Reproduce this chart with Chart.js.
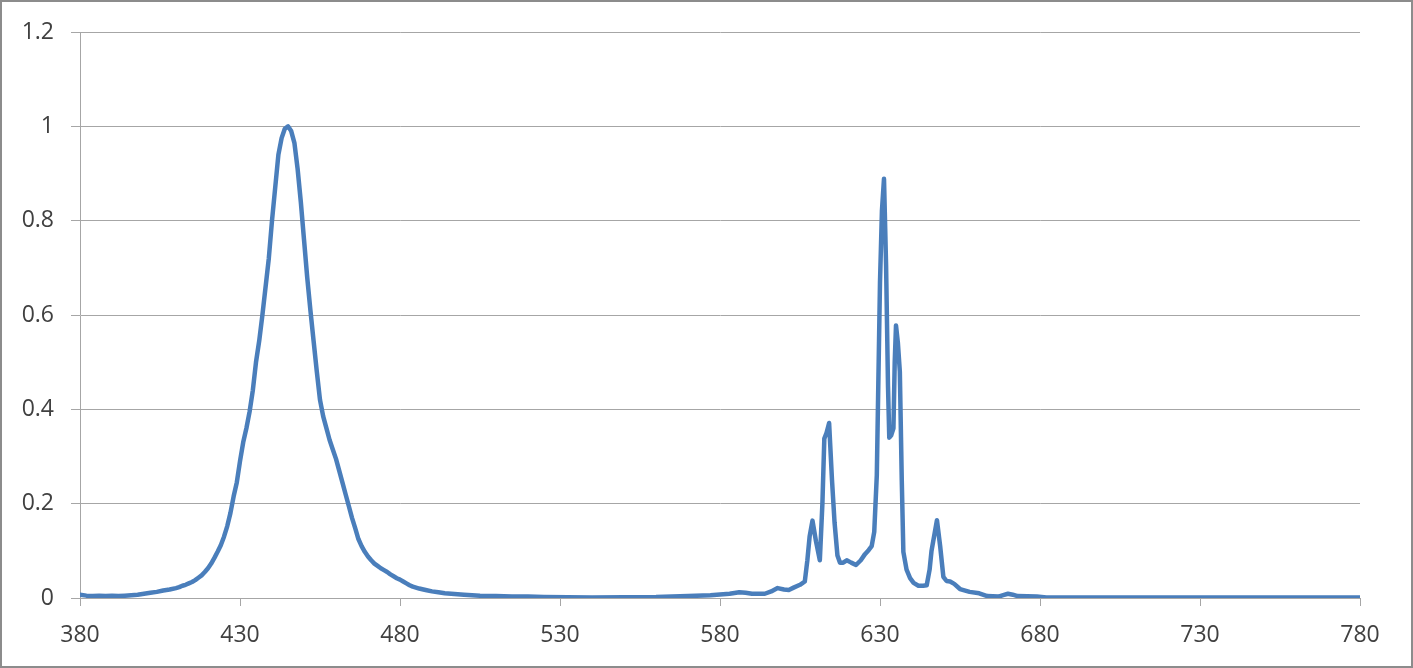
<!DOCTYPE html>
<html>
<head>
<meta charset="utf-8">
<script src="https://cdn.jsdelivr.net/npm/chart.js@4.4.1/dist/chart.umd.min.js"></script>
<style>
  html, body { margin: 0; padding: 0; background: #ffffff; }
</style>
</head>
<body>
<canvas id="espectro" width="1413" height="668"></canvas>
<script>
// longitudes de onda (nm)
const longitudes = [
    380, 382, 384, 386, 388, 390, 392, 394, 396, 398,
    400, 402, 404, 406, 408, 410, 411, 412, 413, 414,
    415, 416, 417, 418, 419, 420, 421, 422, 423, 424,
    425, 426, 427, 428, 429, 430, 431, 432, 433, 434,
    435, 436, 437, 438, 439, 440, 441, 442, 443, 444,
    445, 446, 447, 448, 449, 450, 451, 452, 453, 454,
    455, 456, 457, 458, 459, 460, 461, 462, 463, 464,
    465, 466, 467, 468, 469, 470, 471, 472, 473, 474,
    475, 476, 477, 478, 479, 480, 481, 482, 483, 484,
    486, 488, 490, 492, 494, 496, 498, 500, 505, 510,
    515, 520, 525, 540, 560, 570, 577, 583, 586, 588,
    590, 594, 596, 598, 600, 601.5, 603, 605, 606.5, 607.3,
    608, 608.9, 610, 611.2, 612, 612.6, 613.3, 614.1, 615, 615.8,
    616.7, 617.5, 618.5, 619.6, 621, 622.5, 624, 625.3, 626.5, 627.4,
    628.2, 629, 630, 630.6, 631.25, 631.9, 632.5, 632.9, 633.5, 634.2,
    634.6, 635, 635.6, 636.2, 636.8, 637.3, 638.3, 639.4, 640.5, 642,
    643.5, 644.6, 645.5, 646.1, 647.8, 648.8, 649.8, 650.8, 651.9, 653.2,
    655, 658, 661, 663.5, 667, 668.5, 670, 671.5, 673, 679,
    682, 700, 780
];

// intensidad relativa
const intensidad = [
    0.007, 0.005, 0.004, 0.005, 0.004, 0.005, 0.004, 0.005, 0.006, 0.007,
    0.009, 0.011, 0.013, 0.016, 0.018, 0.021, 0.023, 0.026, 0.028, 0.031,
    0.034, 0.038, 0.043, 0.048, 0.055, 0.063, 0.073, 0.085, 0.098, 0.112,
    0.130, 0.152, 0.180, 0.215, 0.245, 0.290, 0.330, 0.360, 0.395, 0.440,
    0.500, 0.545, 0.600, 0.660, 0.720, 0.800, 0.870, 0.940, 0.975, 0.995,
    1.000, 0.990, 0.965, 0.910, 0.840, 0.760, 0.680, 0.610, 0.545, 0.480,
    0.420, 0.385, 0.360, 0.335, 0.315, 0.295, 0.270, 0.245, 0.220, 0.195,
    0.170, 0.148, 0.125, 0.110, 0.098, 0.088, 0.080, 0.073, 0.068, 0.063,
    0.059, 0.055, 0.050, 0.046, 0.042, 0.039, 0.035, 0.031, 0.027, 0.024,
    0.020, 0.017, 0.014, 0.012, 0.010, 0.009, 0.008, 0.007, 0.005, 0.004,
    0.003, 0.003, 0.002, 0.001, 0.002, 0.004, 0.006, 0.009, 0.012, 0.011,
    0.009, 0.009, 0.014, 0.021, 0.018, 0.017, 0.022, 0.028, 0.035, 0.080,
    0.130, 0.164, 0.120, 0.080, 0.200, 0.338, 0.350, 0.371, 0.250, 0.160,
    0.090, 0.075, 0.075, 0.080, 0.075, 0.070, 0.080, 0.093, 0.102, 0.110,
    0.140, 0.260, 0.670, 0.820, 0.889, 0.705, 0.450, 0.340, 0.345, 0.360,
    0.500, 0.578, 0.540, 0.480, 0.250, 0.098, 0.060, 0.042, 0.032, 0.026,
    0.026, 0.027, 0.060, 0.100, 0.165, 0.110, 0.045, 0.036, 0.035, 0.030,
    0.019, 0.013, 0.010, 0.004, 0.003, 0.006, 0.009, 0.007, 0.004, 0.003,
    0.001, 0.001, 0.001
];

const ticksX = [380, 430, 480, 530, 580, 630, 680, 730, 780];
const ticksY = [0, 0.2, 0.4, 0.6, 0.8, 1, 1.2];

const colorGris = "#a6a6a6";
const colorTexto = "#404040";

// marco exterior del gráfico
const marco = {
    id: "marco",
    afterDraw(chart){
        const c = chart.ctx;
        c.save();
        c.strokeStyle = "#8c8c8c";
        c.lineWidth = 2;
        c.strokeRect(1, 1, chart.width - 2, chart.height - 2);
        c.restore();
    }
};

const puntos = longitudes.map((x, i) => ({ x: x, y: intensidad[i] }));

const ctx = document.getElementById("espectro");

new Chart(ctx, {
    type: "line",
    data: {
        datasets: [{
            data: puntos,
            borderColor: "#4a7ebb",
            borderWidth: 4.5,
            pointRadius: 0,
            tension: 0,
            borderJoinStyle: "round",
            borderCapStyle: "round",
            fill: false
        }]
    },
    options: {
        responsive: false,
        animation: false,
        devicePixelRatio: 1,
        layout: {
            padding: { top: 32, right: 53, bottom: 0, left: 0 }
        },
        plugins: {
            legend: { display: false },
            tooltip: { enabled: false }
        },
        scales: {
            x: {
                type: "linear",
                min: 380,
                max: 780,
                afterBuildTicks: (scale) => {
                    scale.ticks = ticksX.map(v => ({ value: v }));
                },
                afterFit: (scale) => { scale.height = 70; },
                grid: {
                    drawOnChartArea: false,
                    drawTicks: true,
                    tickLength: 8,
                    color: colorGris
                },
                border: { color: colorGris, width: 1 },
                ticks: {
                    autoSkip: false,
                    maxRotation: 0,
                    padding: 16,
                    color: colorTexto,
                    font: { family: "'Open Sans'", size: 23 }
                }
            },
            y: {
                min: 0,
                max: 1.2,
                afterBuildTicks: (scale) => {
                    scale.ticks = ticksY.map(v => ({ value: v }));
                },
                afterFit: (scale) => { scale.width = 80; },
                grid: {
                    drawTicks: true,
                    tickLength: 9,
                    color: colorGris
                },
                border: { color: colorGris, width: 1 },
                ticks: {
                    padding: 17,
                    color: colorTexto,
                    font: { family: "'Open Sans'", size: 23 },
                    callback: (v) => String(v)
                }
            }
        }
    },
    plugins: [marco]
});
</script>
</body>
</html>
